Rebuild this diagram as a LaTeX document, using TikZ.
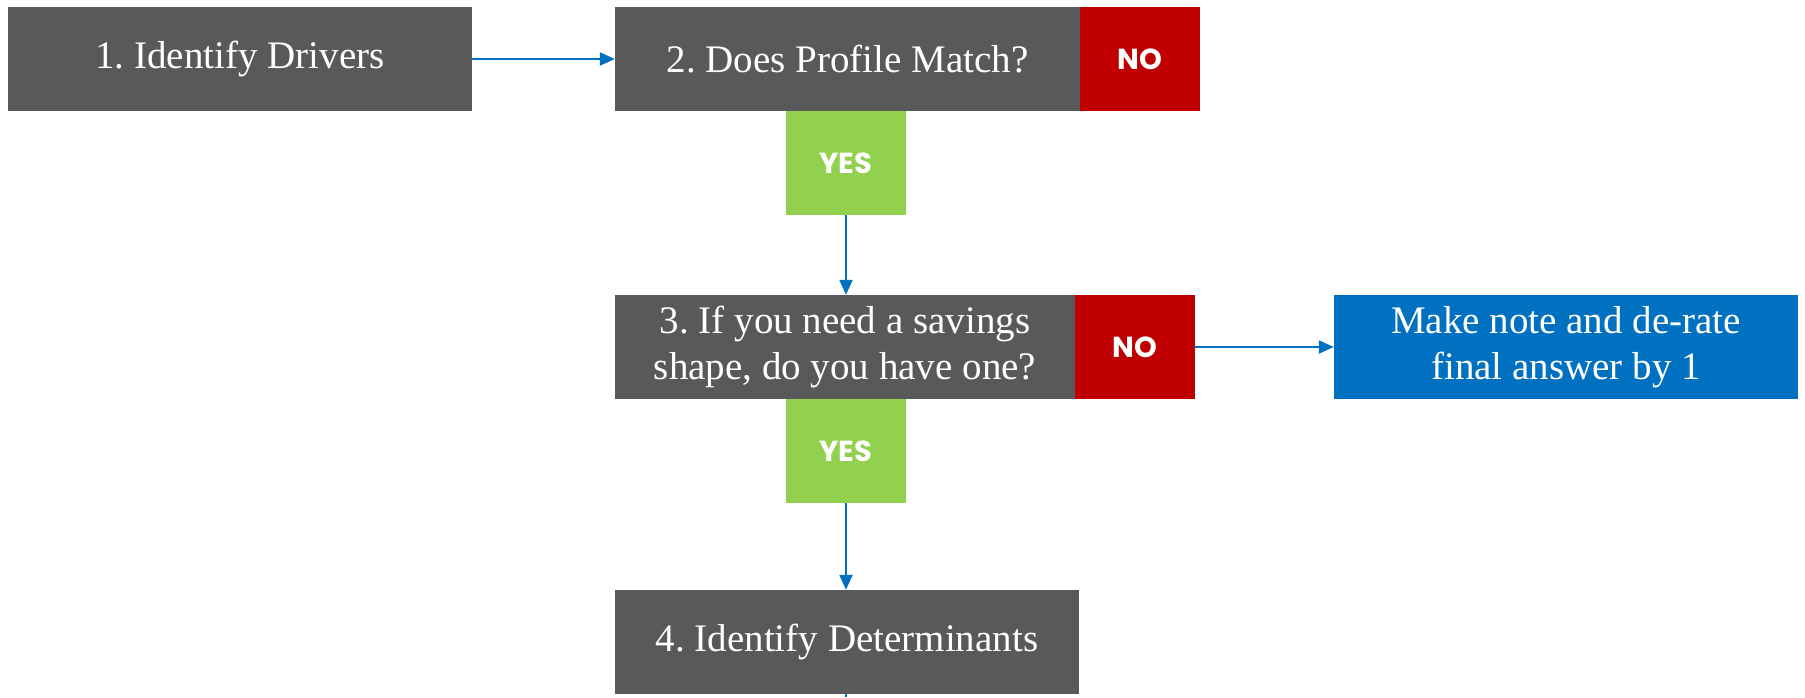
\documentclass[tikz,border=0pt]{standalone}
\usepackage{fontspec}
\setmainfont{Liberation Serif}
\newfontfamily\labfont{Poppins}
\usetikzlibrary{arrows.meta}
\definecolor{boxgray}{HTML}{595959}
\definecolor{nored}{HTML}{C00000}
\definecolor{yesgreen}{HTML}{92D050}
\definecolor{flowblue}{HTML}{0070C0}
\frenchspacing
\tikzset{
  stepbox/.style={fill=boxgray, text=white, inner sep=0pt, minimum height=104pt, align=center,
    font=\fontsize{39}{46}\selectfont},
  nobox/.style={fill=nored, text=white, inner sep=0pt, minimum width=120pt, minimum height=104pt,
    font=\labfont\bfseries\fontsize{29}{33}\selectfont},
  yesbox/.style={fill=yesgreen, text=white, inner sep=0pt, minimum width=120pt, minimum height=104pt,
    font=\labfont\bfseries\fontsize{29}{33}\selectfont},
  endbox/.style={fill=flowblue, text=white, inner sep=0pt, minimum height=104pt, align=center,
    font=\fontsize{39}{46}\selectfont},
  flow/.style={draw=flowblue, line width=2.2pt, -{Triangle[length=15pt,width=13pt]}},
}
\begin{document}
\begin{tikzpicture}[x=1pt,y=-1pt]
\useasboundingbox (0,0) rectangle (1805,697);
\node[stepbox, minimum width=464pt] (s1) at (240,59) {1. Identify Drivers};
\node[stepbox, minimum width=465pt] (s2) at (847.5,59) {2. Does Profile Match?};
\node[nobox] (n2) at (1139.5,59) {NO};
\node[yesbox] (y2) at (846,163) {YES};
\node[stepbox, minimum width=460pt] (s3) at (845,347) {3. If you need a savings\\shape, do you have one?};
\node[nobox] (n3) at (1135,347) {NO};
\node[endbox, minimum width=464pt] (e3) at (1566,347) {Make note and de-rate\\final answer by 1};
\node[yesbox] (y3) at (846,451) {YES};
\node[stepbox, minimum width=464pt] (s4) at (847,642) {4. Identify Determinants};
\coordinate (down) at (846,697);
\draw[flow] (s1.east) -- (s2.west);
\draw[flow] (y2.south) -- (y2.south |- s3.north);
\draw[flow] (n3.east) -- (e3.west);
\draw[flow] (y3.south) -- (y3.south |- s4.north);
\draw[draw=flowblue, line width=2.2pt] (y3.south |- s4.south) -- (down);
\end{tikzpicture}
\end{document}
